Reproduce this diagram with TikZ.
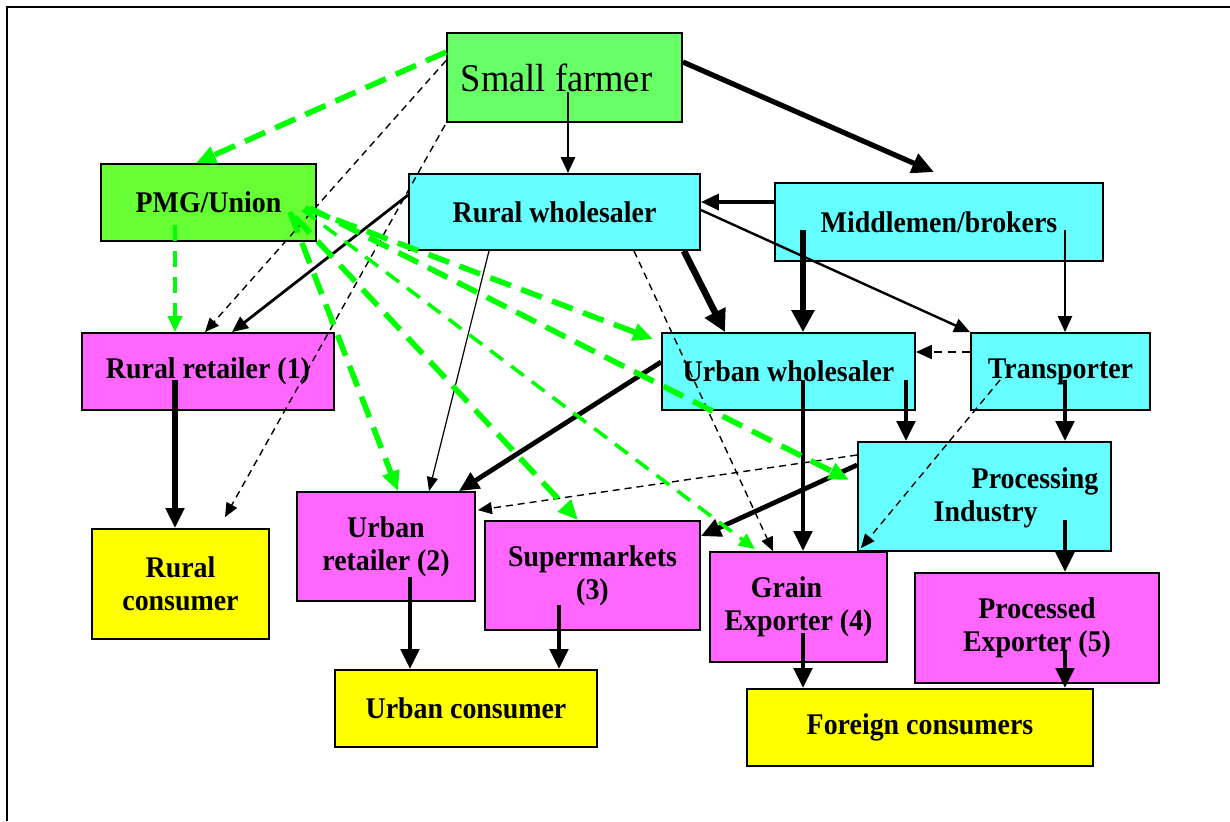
\documentclass[tikz,border=0pt]{standalone}
\usepackage{fontspec}
\setmainfont{Liberation Serif}[FakeStretch=0.93]
\usetikzlibrary{arrows.meta,calc}
\definecolor{farmgreen}{HTML}{66FF66}
\definecolor{pmggreen}{HTML}{66FF33}
\definecolor{cyanbox}{HTML}{66FFFF}
\definecolor{magbox}{HTML}{FF66FF}
\definecolor{yelbox}{HTML}{FFFF00}
\definecolor{lgreen}{HTML}{00FF00}
\tikzset{
 box/.style={draw=black,line width=0.9pt,inner sep=0pt,align=center,font=\bfseries\fontsize{15}{16.5}\selectfont},
 lbl/.style={inner sep=0pt,align=left,font=\bfseries\fontsize{15}{16.5}\selectfont},
 thinarr/.style={line width=0.6pt,-{Triangle[length=7pt,width=5.5pt]}},
 medarr/.style={line width=1.4pt,-{Triangle[length=8pt,width=7pt]}},
 thickarr/.style={line width=2.4pt,-{Triangle[length=10pt,width=9pt]}},
 heavyarr/.style={line width=3.3pt,-{Triangle[length=11pt,width=11pt]}},
 blkdash/.style={line width=0.7pt,dash pattern=on 3.5pt off 2.5pt,-{Triangle[length=7pt,width=6pt]}},
 grndash/.style={draw=lgreen,line width=2.8pt,dash pattern=on 11pt off 5.5pt,-{Triangle[length=10pt,width=8.5pt]}},
 grnthin/.style={draw=lgreen,line width=1.8pt,dash pattern=on 8pt off 5pt,-{Triangle[length=8pt,width=7pt]}},
}
\begin{document}
\begin{tikzpicture}[x=0.5pt,y=-0.5pt]
\useasboundingbox (0,0) rectangle (1230,821);
\draw[line width=1pt] (7,821) -- (7,7) -- (1230,7);

% nodes
\node[box,fill=farmgreen,minimum width=117.5pt,minimum height=44.5pt] (farmer) at (564.5,77.5)
  {\mdseries\fontsize{19.6}{21}\selectfont Small farmer\hspace*{8pt}};
\node[box,fill=pmggreen,minimum width=107.5pt,minimum height=38.5pt] (pmg) at (208.5,202.5) {PMG/Union};
\node[box,fill=cyanbox,minimum width=145.5pt,minimum height=38pt] (rw) at (554.5,212) {Rural wholesaler};
\node[box,fill=cyanbox,minimum width=164pt,minimum height=39pt] (mb) at (939,222) {Middlemen/brokers};
\node[box,fill=magbox,minimum width=126pt,minimum height=38.5pt] (rr) at (208,371.5) {Rural retailer (1)};
\node[box,fill=cyanbox,minimum width=126.5pt,minimum height=38.5pt] (uw) at (788.5,371.5) {Urban wholesaler};
\node[box,fill=cyanbox,minimum width=89.5pt,minimum height=38.5pt] (tr) at (1060.5,371.5) {Transporter};
\node[box,fill=cyanbox,minimum width=126.5pt,minimum height=54.5pt] (proc) at (984.5,496.5) {};
\node[lbl] (proctext) at ($(proc.center)+(31.5,1.5)$) {\hspace*{19pt}Processing\\Industry};
\node[box,fill=yelbox,minimum width=88.5pt,minimum height=55pt] (rc) at (180.5,584) {Rural\\consumer};
\node[box,fill=magbox,minimum width=89pt,minimum height=54.5pt] (ur) at (386,546.5) {Urban\\retailer (2)};
\node[box,fill=magbox,minimum width=107.5pt,minimum height=54.5pt] (sm) at (592.5,575.5) {Supermarkets\\(3)};
\node[box,fill=magbox,minimum width=88.5pt,minimum height=55pt] (ge) at (798.5,607) {Grain\hspace*{12pt}\\Exporter (4)};
\node[box,fill=magbox,minimum width=122pt,minimum height=55pt] (pe) at (1037,628) {Processed\\Exporter (5)};
\node[box,fill=yelbox,minimum width=131pt,minimum height=38.5pt] (uc) at (466,708.5) {Urban consumer};
\node[box,fill=yelbox,minimum width=173pt,minimum height=38.5pt] (fc) at (920,727.5) {Foreign consumers};

% black connectors
\draw[medarr] ($(farmer.center)+(3.5,14.5)$) -- ($(rw.north)+(13.5,0)$);
\draw[line width=2.6pt,-{Triangle[length=11pt,width=10pt]}] ($(farmer.east)+(0,-15.5)$) -- ($(mb.north)+(-5,-10)$);
\draw[line width=1.8pt,-{Triangle[length=9pt,width=8pt]}] ($(mb.west)+(0,-20)$) -- ($(rw.east)+(0,-10)$);
\draw[medarr] ($(rw.west)+(0,-17)$) -- ($(rr.north)+(24,0)$);
\draw[thinarr] ($(rw.south)+(-65.5,0)$) -- ($(ur.north)+(43,0)$);
\draw[heavyarr] ($(rw.south east)+(-17,0)$) -- ($(uw.north)+(-63.5,0)$);
\draw[line width=1.2pt,-{Triangle[length=8pt,width=7pt]}] ($(rw.east)+(0,-2)$) -- (tr.north west);
\draw[heavyarr] ($(mb.center)+(-136,8)$) -- ($(uw.north)+(14.5,0)$);
\draw[line width=1.1pt,-{Triangle[length=8pt,width=7pt]}] ($(mb.center)+(126,8)$) -- ($(tr.north)+(4.5,0)$);
\draw[line width=1pt,dash pattern=on 4pt off 3pt,-{Triangle[length=8pt,width=7pt]}] ($(tr.west)+(0,-19.5)$) -- ($(uw.east)+(0,-19.5)$);
\draw[thickarr] ($(uw.center)+(117.5,8.5)$) -- ($(proc.north)+(-78.5,0)$);
\draw[thickarr] ($(tr.center)+(4.5,8.5)$) -- ($(proc.north)+(80.5,0)$);
\draw[thickarr] ($(uw.center)+(14.5,8.5)$) -- ($(ge.north)+(4.5,0)$);
\draw[thickarr] ($(uw.west)+(0,-9.5)$) -- ($(ur.north east)+(-17,0)$);
\draw[thickarr] ($(proc.west)+(0,-31.5)$) -- ($(sm.north east)+(0,16)$);
\draw[thickarr] ($(proc.center)+(80.5,23.5)$) -- ($(pe.north)+(28,0)$);
\draw[thickarr] ($(ur.center)+(24,30.5)$) -- ($(uc.north)+(-56,0)$);
\draw[thickarr] ($(sm.center)+(-33.5,29.5)$) -- ($(uc.north)+(93,0)$);
\draw[thickarr] ($(ge.center)+(4.5,26)$) -- ($(fc.north)+(-117,0)$);
\draw[thickarr] ($(pe.center)+(28,22)$) -- ($(fc.north)+(145,0)$);
\draw[line width=3pt,-{Triangle[length=10pt,width=9pt]}] ($(rr.center)+(-33,8.5)$) -- ($(rc.north)+(-5.5,0)$);
\draw[blkdash] ($(proc.west)+(0,-41.5)$) -- ($(ur.north east)+(2,19)$);
\draw[blkdash] ($(tr.center)+(-60.5,8.5)$) -- ($(ge.north east)+(-27,-3)$);
\draw[blkdash] ($(rw.south)+(79.5,0)$) -- ($(ge.north)+(-25.5,0)$);
\draw[blkdash] ($(farmer.west)+(0,-17)$) -- ($(rr.north)+(-3,0)$);
\draw[blkdash] ($(farmer.south west)+(-1,2)$) -- ($(rc.north)+(44.5,-11)$);

% green connectors
\draw[grndash] ($(farmer.west)+(0,-25.5)$) -- ($(pmg.north)+(-12.5,0)$);
\draw[grnthin] ($(pmg.center)+(-33.5,22.5)$) -- ($(rr.north)+(-33,0)$);
\draw[grndash] ($(pmg.center)+(81.5,9.5)$) -- ($(ur.north)+(12,0)$);
\draw[grndash] ($(pmg.center)+(86.5,14.5)$) -- ($(sm.north)+(-14.5,0)$);
\draw[grndash] ($(pmg.center)+(96.5,5.5)$) -- ($(uw.north west)+(-8,7)$);
\draw[grndash] ($(pmg.center)+(101.5,5.5)$) -- ($(proc.west)+(-8,-16.5)$);
\draw[grnthin] ($(pmg.center)+(94.5,7.5)$) -- ($(ge.north)+(-43.5,-2)$);
\end{tikzpicture}
\end{document}
